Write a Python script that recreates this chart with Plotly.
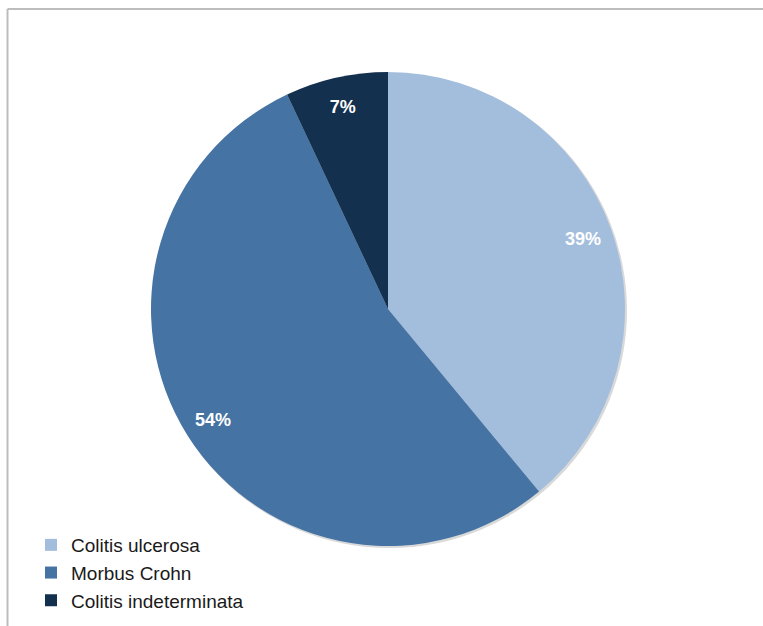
import plotly.graph_objects as go

labels = ["Colitis ulcerosa", "Morbus Crohn", "Colitis indeterminata"]
values = [39, 54, 7]
colors = ["#A3BEDD", "#4573A3", "#14304F"]

W, H = 763, 626
cx, cy, R = 388, 309, 237
FONT = "Liberation Sans, Arial, sans-serif"
dom = dict(x=[(cx - R) / W, (cx + R) / W], y=[1 - (cy + R) / H, 1 - (cy - R) / H])

fig = go.Figure()
# filled pie
fig.add_trace(go.Pie(
    labels=labels, values=values, sort=False, direction="clockwise", rotation=0,
    marker=dict(colors=colors, line=dict(width=0)),
    textinfo="none", domain=dom, hoverinfo="label+percent",
))
# transparent ring that only carries the percentage labels near the rim
fig.add_trace(go.Pie(
    labels=labels, values=values, sort=False, direction="clockwise", rotation=0,
    hole=0.75,
    marker=dict(colors=["rgba(0,0,0,0)"] * 3, line=dict(width=0)),
    texttemplate="%{percent:.0%}", textposition="inside", insidetextorientation="horizontal",
    textfont=dict(family=FONT, size=18, color="white", weight="bold"),
    domain=dom, showlegend=False, hoverinfo="skip",
))

fig.update_layout(
    width=W, height=H,
    margin=dict(l=0, r=0, t=0, b=0),
    paper_bgcolor="white",
    showlegend=True,
    legend=dict(x=31 / W, y=1 - 526 / H, xanchor="left", yanchor="top",
                font=dict(family=FONT, size=19, color="#1a1a1a"),
                bgcolor="rgba(0,0,0,0)", itemwidth=30),
    shapes=[
        dict(type="line", xref="paper", yref="paper", x0=7.5 / W, x1=1, y0=1 - 9 / H, y1=1 - 9 / H,
             line=dict(color="#bdbdbd", width=2)),
        dict(type="line", xref="paper", yref="paper", x0=7.5 / W, x1=7.5 / W, y0=0, y1=1 - 9 / H,
             line=dict(color="#bdbdbd", width=2)),
        dict(type="circle", xref="paper", yref="paper", layer="below",
             x0=(cx - R + 1) / W, x1=(cx + R + 2) / W, y0=1 - (cy + R + 2) / H, y1=1 - (cy - R + 1) / H,
             fillcolor="#d9d9d9", line=dict(width=0)),
    ],
)

fig.write_html("out.html", config={"displayModeBar": False},
               post_script="document.body.style.margin='0';")
